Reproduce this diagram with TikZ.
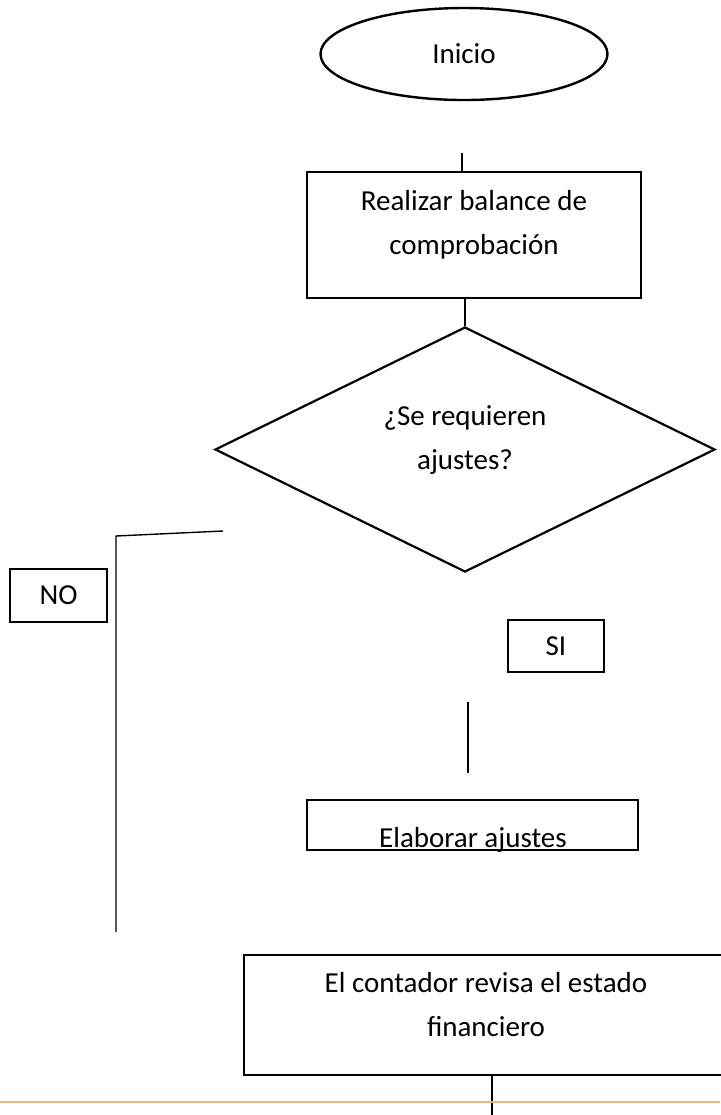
\documentclass[tikz,border=0pt]{standalone}
\usepackage{fontspec}
\setmainfont{Carlito}
\usetikzlibrary{shapes.geometric}
\definecolor{pagerule}{RGB}{244,177,131}
\tikzset{
    box/.style={draw, line width=1.4pt, inner sep=0pt},
    txt/.style={align=center, font=\fontsize{14.5}{22}\selectfont, inner sep=0pt},
    link/.style={line width=0.7pt},
}
\begin{document}
\begin{tikzpicture}[x=0.5pt, y=-0.5pt]
    \useasboundingbox (0,0) rectangle (720,1115);

    % start
    \node[ellipse, draw, line width=1.2pt, minimum width=143.5pt, minimum height=46pt, txt] (inicio) at (464,54) {Inicio};

    % trial balance
    \node[box, minimum width=167pt, minimum height=63pt] (balance) at (474,235) {};
    \node[txt] (balancetxt) at (474,225) {Realizar balance de\\comprobación};
    \coordinate (balancein) at (462,153);
    \draw[link] (balancein) -- (balancein |- balance.north);

    % decision
    \node[diamond, draw, line width=1.1pt, minimum width=250pt, minimum height=122.5pt, inner sep=0pt] (ajuste) at (465,449.5) {};
    \node[txt] (ajustetxt) at (465,440) {¿Se requieren\\ajustes?};
    \draw[link] (ajuste.north |- balance.south) -- (ajuste.north);

    % NO branch
    \node[box, minimum width=48.5pt, minimum height=26.5pt, txt] (no) at (58.5,595.5) {NO};
    \coordinate (noA) at (223,531);
    \coordinate (noB) at (116,536);
    \coordinate (noC) at (116,932);
    \draw[link] (noA) -- (noB) -- (noC);

    % SI branch
    \node[box, minimum width=48pt, minimum height=26pt, txt] (si) at (556,646) {SI};
    \coordinate (siA) at (468,702);
    \coordinate (siB) at (468,773);
    \draw[link] (siA) -- (siB);

    \node[box, minimum width=165.5pt, minimum height=25pt] (elaborar) at (472.5,825) {};
    \begin{scope}
        \clip (elaborar.south west) rectangle (elaborar.north east);
        \node[txt, anchor=base] (elaborartxt) at (473,847) {Elaborar ajustes};
    \end{scope}

    % review
    \node[box, minimum width=242pt, minimum height=60pt] (revisa) at (486,1015) {};
    \node[txt] (revisatxt) at (486,1005) {El contador revisa el estado\\financiero};
    \coordinate (revisaout) at (492,1115);
    \draw[link] (revisaout |- revisa.south) -- (revisaout);

    \draw[pagerule, line width=1pt] (0,1102) -- (720,1102);
\end{tikzpicture}
\end{document}
